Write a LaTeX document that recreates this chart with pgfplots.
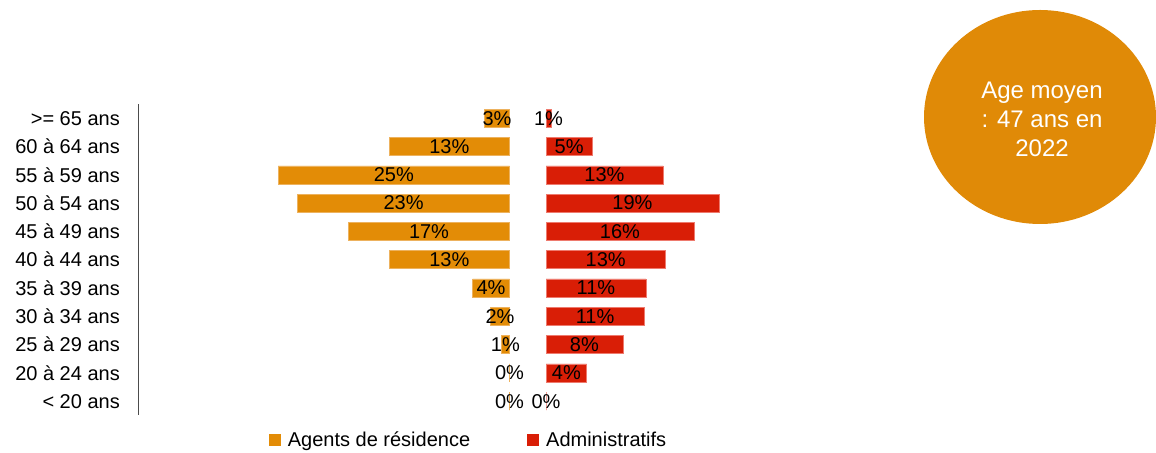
\documentclass[border=0pt]{standalone}
\usepackage{pgfplots}
\pgfplotsset{compat=1.18}
\usepackage{pgfplotstable}
\usepackage{fontspec}
\setmainfont{Liberation Sans}

\definecolor{orangeC}{HTML}{E38C06}
\definecolor{orangeE}{HTML}{EDB25E}
\definecolor{redC}{HTML}{D91E06}
\definecolor{redE}{HTML}{EE7A6E}
\definecolor{circC}{HTML}{E08A07}

\newcommand\fs{\fontsize{20bp}{24bp}\selectfont}
\newcommand\cfs{\fontsize{24bp}{29bp}\selectfont}

% idx 0 = >= 65 ans ... idx 10 = < 20 ans
% ag/adm: bar length in %, agl/adml: printed label
\pgfplotstableread{
idx ag   agl adm   adml
0   2.7  3   0.55  1
1   13.0 13  5.0   5
2   25.0 25  12.65 13
3   22.9 23  18.7  19
4   17.4 17  16.0  16
5   13.0 13  12.9  13
6   4.0  4   10.8  11
7   2.05 2   10.6  11
8   0.9  1   8.3   8
9   0    0   4.4   4
10  0    0   0     0
}\data

\pgfplotsset{
  lbl/.style={draw=none, forget plot, nodes near coords, point meta=explicit symbolic,
    nodes near coords={\pgfplotspointmeta\%},
    every node near coord/.append style={anchor=center, font=\fs, text=black, inner sep=0pt}},
}

\begin{document}
\begin{tikzpicture}
\useasboundingbox (0bp,0bp) rectangle (1156bp,453bp);

\fill[circC] (1040bp,336bp) ellipse [x radius=116bp, y radius=107bp];
\node[text=white, align=center, font=\cfs] at (1042bp,334bp) {Age moyen\\: 47 ans en\\2022};

% left half: categories + Agents de residence
\begin{axis}[
  at={(138bp,37.7bp)}, anchor=south west,
  scale only axis, width=371.5bp, height=311.3bp,
  xmin=-40.16, xmax=0, ymin=-0.5, ymax=10.5, y dir=reverse,
  axis x line=none, axis y line*=left,
  axis line style={draw=black!70, line width=0.8bp},
  ytick={0,...,10},
  yticklabels={>= 65 ans, 60 à 64 ans, 55 à 59 ans, 50 à 54 ans, 45 à 49 ans,
    40 à 44 ans, 35 à 39 ans, 30 à 34 ans, 25 à 29 ans, 20 à 24 ans, < 20 ans},
  major tick length=0pt,
  yticklabel style={font=\fs, anchor=east, inner sep=0pt, xshift=-18bp},
  bar width=18bp, clip=false,
]
\addplot[xbar, fill=orangeC, draw=orangeE, line width=0.5bp, forget plot]
  table[x expr=-\thisrow{ag}, y=idx] {\data};
\addplot[lbl] table[x expr=-\thisrow{ag}/2, y=idx, meta=agl] {\data};
\end{axis}

% right half: Administratifs
\begin{axis}[
  at={(546bp,37.7bp)}, anchor=south west,
  scale only axis, width=231.25bp, height=311.3bp,
  xmin=0, xmax=25, ymin=-0.5, ymax=10.5, y dir=reverse,
  axis lines=none, clip=false, bar width=18bp,
  legend image code/.code={\fill[#1] (0bp,-6bp) rectangle (12bp,6bp);},
  legend style={at={(-0.335,-0.079)}, anchor=center, draw=none, fill=none,
    font=\fs, inner sep=0pt,
    /tikz/every odd column/.append style={column sep=5bp},
    /tikz/every even column/.append style={column sep=55bp}},
  legend columns=2, legend cell align=left,
]
\addlegendimage{fill=orangeC, draw=none}
\addlegendentry{Agents de résidence}
\addlegendimage{fill=redC, draw=none}
\addlegendentry{Administratifs}
\addplot[xbar, fill=redC, draw=redE, line width=0.5bp, forget plot]
  table[x=adm, y=idx] {\data};
\addplot[lbl] table[x expr=\thisrow{adm}/2, y=idx, meta=adml] {\data};
\end{axis}
\end{tikzpicture}
\end{document}
